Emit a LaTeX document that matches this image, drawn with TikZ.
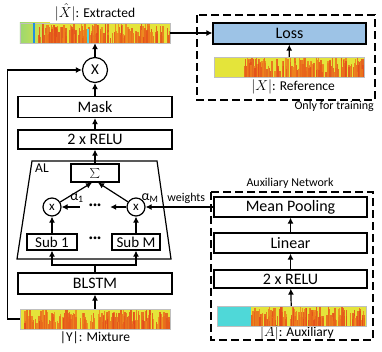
\documentclass[tikz,border=0pt]{standalone}
\usepackage{fontspec}
\setmainfont{Carlito}
\usetikzlibrary{calc, arrows.meta, positioning}

% random streaks inside a spectrogram node
\newcommand{\specfill}[4]{%
  \begin{scope}
    \clip (#1.south west) rectangle (#1.north east);
    \pgfmathsetseed{#2}
    \foreach \k in {1,...,#4}{
      \pgfmathsetmacro{\specX}{#3+(1-#3)*rnd}
      \pgfmathsetmacro{\specH}{0.25+0.75*rnd}
      \pgfmathsetmacro{\specW}{0.5+2*rnd}
      \pgfmathtruncatemacro{\specM}{20+80*rnd}
      \fill[specRed!\specM!specOrange, opacity=0.85] ($(#1.south west)!\specX!(#1.south east)$) rectangle ++(\specW,-\specH*20);
    }
  \end{scope}
  \draw[gray!50] (#1.south west) rectangle (#1.north east);}

\begin{document}
\begin{tikzpicture}[x=1pt, y=-1pt,
    box/.style={draw, line width=1.2pt, inner sep=0pt, font=\fontsize{16}{18}\selectfont},
    mult/.style={draw, circle, line width=1.2pt, inner sep=0pt},
    spec/.style={fill=specBase, minimum width=150pt, minimum height=20pt, inner sep=0pt},
    flow/.style={line width=1.2pt, -{Latex[length=6pt,width=6pt]}},
    frame/.style={line width=1.2pt, dash pattern=on 8pt off 4pt},
    lbl/.style={font=\fontsize{13.5}{15}\selectfont},
    note/.style={font=\fontsize{12}{14}\selectfont}]
    \useasboundingbox (0,0) rectangle (382,351);

    \definecolor{lossBlue}{HTML}{9DC3E6}
    \definecolor{specBase}{HTML}{E4E43A}
    \definecolor{specOrange}{HTML}{F39A1E}
    \definecolor{specRed}{HTML}{E2461A}
    \definecolor{specGreen}{HTML}{9CD870}
    \definecolor{specCyan}{HTML}{4FD8D8}
    \definecolor{specBlue}{HTML}{2090E0}

    % Main separation branch
    \node[spec] (mix) at (95,319) {};
    \node[lbl] (mixlbl) at (95,338) {|Y|: Mixture};
    \node[box, minimum width=154pt, minimum height=21pt] (blstm) at (95,283.5) {BLSTM};

    % AL block
    \draw[line width=1.2pt] (32,161) -- (157,161) -- (171,259) -- (17,259) -- cycle;
    \node[lbl, anchor=north west, inner sep=0pt] (al) at (35,164) {AL};
    \node[box, minimum width=50pt, minimum height=16pt, font=\fontsize{15}{16}\selectfont] (sub1) at (52,242) {Sub 1};
    \node[box, minimum width=48pt, minimum height=16pt, font=\fontsize{15}{16}\selectfont] (subM) at (136,242) {Sub M};
    \node[font=\fontsize{15}{16}\selectfont\bfseries] (dotsub) at (95,240) {···};
    \node[mult, minimum size=18pt, font=\fontsize{13}{14}\selectfont] (m1) at (52,207) {x};
    \node[mult, minimum size=18pt, font=\fontsize{13}{14}\selectfont] (mM) at (136,207) {x};
    \node[minimum width=30pt, inner sep=0pt, font=\fontsize{15}{16}\selectfont\bfseries] (dotw) at (95,207) {···};
    \node[font=\fontsize{14}{15}\selectfont] (a1) at (77,198) {α\textsubscript{1}};
    \node[font=\fontsize{14}{15}\selectfont] (aM) at (150,198) {α\textsubscript{M}};
    \node[box, minimum width=48pt, minimum height=18pt] (sum) at (95,173) {$\sum$};

    \node[box, minimum width=154pt, minimum height=19pt] (relu) at (95,139.5) {2 x RELU};
    \node[box, minimum width=154pt, minimum height=21pt] (mask) at (95,107) {Mask};
    \node[mult, minimum size=25pt, font=\fontsize{15}{16}\selectfont] (mX) at (95,70) {X};
    \node[spec] (ext) at (95,33) {};
    \node[lbl, inner sep=1pt] (extlbl) at (95,12) {$|\hat{X}|$: Extracted};

    % Training part
    \draw[frame] (197,15) rectangle (375,100);
    \node[box, fill=lossBlue, minimum width=153pt, minimum height=21pt] (loss) at (289.5,33.5) {Loss};
    \node[spec] (ref) at (289,67) {};
    \node[lbl] (reflbl) at (293,87) {$|X|$: Reference};
    \node[note, anchor=north east, inner sep=0pt] (train) at (374,101) {Only for training};

    % Auxiliary network
    \draw[frame] (211,192) rectangle (373,340);
    \node[note] (auxnet) at (290,183) {Auxiliary Network};
    \node[box, minimum width=153pt, minimum height=20pt] (pool) at (290.5,207) {Mean Pooling};
    \node[box, minimum width=153pt, minimum height=20pt] (linear) at (290.5,243) {Linear};
    \node[box, minimum width=153pt, minimum height=18pt] (relu2) at (290.5,279) {2 x RELU};
    \node[spec, minimum width=149pt] (aux) at (291.5,316) {};
    \node[lbl, inner sep=0pt] (auxlbl) at (297,333) {$|A|$: Auxiliary};

    % Spectrogram textures
    \begin{scope}
        \clip (ext.south west) rectangle (ext.north east);
        \shade[left color=specGreen, right color=specBase] (ext.south west) rectangle ($(ext.north west)!0.2!(ext.north east)$);
    \end{scope}
    \specfill{ext}{7}{0.12}{180}
    \fill[specBlue] ($(ext.south west)!0.085!(ext.south east)$) rectangle ++(2.5,-20);
    \fill[specCyan] ($(ext.south west)!0.45!(ext.south east)$) rectangle ++(2,-14);
    \specfill{mix}{11}{0.03}{220}
    \specfill{ref}{23}{0.2}{180}
    \fill[specCyan] (aux.south west) rectangle ($(aux.north west)!0.23!(aux.north east)$);
    \specfill{aux}{31}{0.23}{170}

    % Connections
    \coordinate (fork) at (95,265);
    \draw[flow] (mix.north) -- (blstm.south);
    \draw[line width=1.2pt] (blstm.north) -- (fork);
    \draw[flow] (fork) -| (sub1.south);
    \draw[flow] (fork) -| (subM.south);
    \draw[flow] (sub1) -- (m1);
    \draw[flow] (subM) -- (mM);
    \draw[flow] (m1) -- ([xshift=-3pt]sum.south);
    \draw[flow] (mM) -- ([xshift=3pt]sum.south);
    \draw[flow] (mM.west) -- (dotw.east);
    \draw[flow] (dotw.west) -- (m1.east);
    \draw[flow] (pool.west) -- node[note, above, pos=0.4] (wlbl) {weights} (mM.east);
    \draw[flow] (sum) -- (relu);
    \draw[flow] (relu) -- (mask);
    \draw[flow] (mask) -- (mX);
    \draw[flow] (mX) -- (ext);
    \draw[flow] (mix.west) -- ++(-12,0) |- (mX.west);
    \draw[flow] (ext.east) -- (ext.east -| loss.west);
    \draw[flow] (ref) -- (loss);
    \draw[flow] (aux) -- (relu2);
    \draw[flow] (relu2) -- (linear);
    \draw[flow] (linear) -- (pool);
\end{tikzpicture}
\end{document}
